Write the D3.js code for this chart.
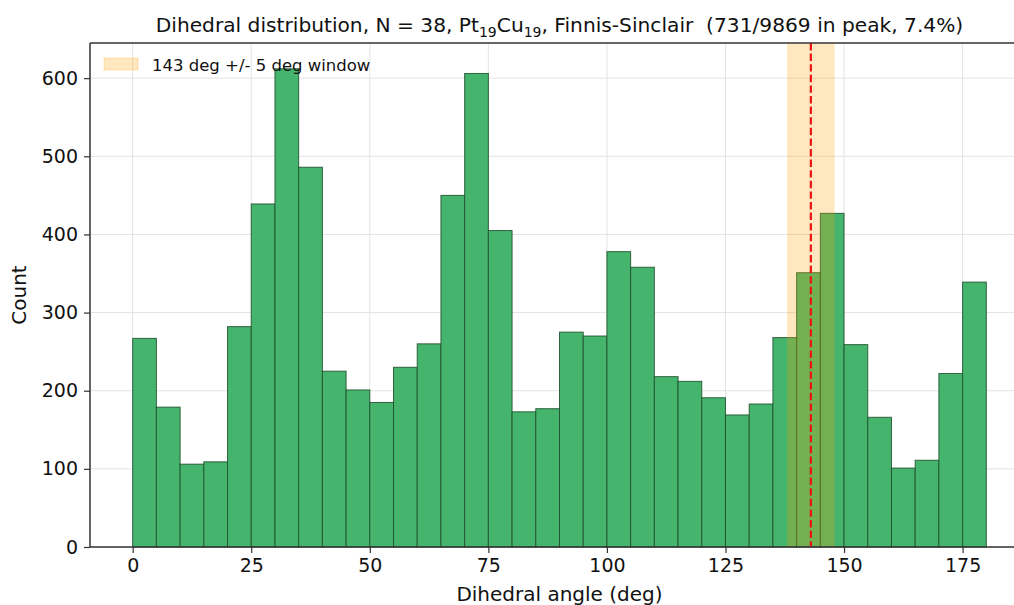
<!DOCTYPE html>
<html>
<head>
<meta charset="utf-8">
<script src="https://cdn.jsdelivr.net/npm/d3@7"></script>
<style>
  html, body { margin: 0; padding: 0; background: #fff; }
  svg { display: block; font-family: "DejaVu Sans", sans-serif; }
</style>
</head>
<body>
<svg id="chart" width="1014" height="605"></svg>
<script>
// ---- data ----
const binStarts = d3.range(0, 180, 5);
const binWidth = 5;
const counts = [267, 179, 106, 109, 282, 439, 612, 486, 225, 201, 185, 230,
                260, 450, 606, 405, 173, 177, 275, 270, 378, 358, 218, 212,
                191, 169, 183, 268, 351, 427, 259, 166, 101, 111, 222, 339];
const xTicks = [0, 25, 50, 75, 100, 125, 150, 175];
const yTicks = [0, 100, 200, 300, 400, 500, 600];
const peakCenter = 143;
const peakHalfWidth = 5;
const legendLabel = "143 deg +/- 5 deg window";
const xLabel = "Dihedral angle (deg)";
const yLabel = "Count";

(function () {
// ---- layout ----
const pL = 90, pT = 43, pB = 547, pR = 1029;
const svg = d3.select("#chart");

const x = d3.scaleLinear().domain([-9, 189]).range([pL, pR]);
const y = d3.scaleLinear().domain([0, 645]).range([pB, pT]);

// grid
const grid = svg.append("g");
grid.selectAll("line.gx").data(xTicks).enter().append("line")
  .attr("x1", d => x(d)).attr("x2", d => x(d))
  .attr("y1", pT).attr("y2", pB)
  .attr("stroke", "#e3e3e3").attr("stroke-width", 1);
grid.selectAll("line.gy").data(yTicks).enter().append("line")
  .attr("x1", pL).attr("x2", pR)
  .attr("y1", d => y(d)).attr("y2", d => y(d))
  .attr("stroke", "#e3e3e3").attr("stroke-width", 1);

// bars
const bars = binStarts.map((s, i) => ({ x0: s, x1: s + binWidth, c: counts[i] }));
svg.append("g").selectAll("rect").data(bars).enter().append("rect")
  .attr("x", d => x(d.x0))
  .attr("width", d => x(d.x1) - x(d.x0))
  .attr("y", d => y(d.c))
  .attr("height", d => y(0) - y(d.c))
  .attr("fill", "#45b46c")
  .attr("stroke", "#1f4d2c")
  .attr("stroke-opacity", 0.85)
  .attr("stroke-width", 1);

// window
svg.append("rect")
  .attr("x", x(peakCenter - peakHalfWidth))
  .attr("width", x(peakCenter + peakHalfWidth) - x(peakCenter - peakHalfWidth))
  .attr("y", pT).attr("height", pB - pT)
  .attr("fill", "#ffa500").attr("fill-opacity", 0.25);

// dashed line
svg.append("line")
  .attr("x1", x(peakCenter)).attr("x2", x(peakCenter))
  .attr("y1", pT).attr("y2", pB)
  .attr("stroke", "#ee1111").attr("stroke-width", 2.2)
  .attr("stroke-dasharray", "7.4,3.2");

// axes
const xAxis = svg.append("g").attr("transform", `translate(0,${pB})`)
  .call(d3.axisBottom(x).tickValues(xTicks).tickSize(6).tickPadding(6).tickFormat(d3.format("d")));
const yAxis = svg.append("g").attr("transform", `translate(${pL},0)`)
  .call(d3.axisLeft(y).tickValues(yTicks).tickSize(6).tickPadding(6).tickFormat(d3.format("d")));
[xAxis, yAxis].forEach(a => {
  a.selectAll(".domain").remove();
  a.selectAll(".tick line").attr("stroke", "#333").attr("stroke-width", 1.2);
  a.selectAll(".tick text").attr("fill", "#111")
    .style("font-family", "DejaVu Sans").style("font-size", "19px");
});

// spines
svg.append("line").attr("x1", pL).attr("x2", pL).attr("y1", pT).attr("y2", pB)
  .attr("stroke", "#333").attr("stroke-width", 1.5);
svg.append("line").attr("x1", pL).attr("x2", pR).attr("y1", pB).attr("y2", pB)
  .attr("stroke", "#333").attr("stroke-width", 1.5);
svg.append("line").attr("x1", pL).attr("x2", pR).attr("y1", pT).attr("y2", pT)
  .attr("stroke", "#333").attr("stroke-width", 1.5);

// axis labels
svg.append("text").attr("x", (pL + pR) / 2).attr("y", 601)
  .attr("text-anchor", "middle").attr("fill", "#111").style("font-size", "20px")
  .text(xLabel);
svg.append("text").attr("transform", `translate(26,${(pT + pB) / 2}) rotate(-90)`)
  .attr("text-anchor", "middle").attr("fill", "#111").style("font-size", "20px")
  .text(yLabel);

// title
const title = svg.append("text").attr("x", (pL + pR) / 2).attr("y", 32)
  .attr("text-anchor", "middle").attr("fill", "#111").style("font-size", "20.2px")
  .style("white-space", "pre");
title.append("tspan").text("Dihedral distribution, N = 38, Pt");
title.append("tspan").attr("dy", 4.5).style("font-size", "14px").text("19");
title.append("tspan").attr("dy", -4.5).text("Cu");
title.append("tspan").attr("dy", 4.5).style("font-size", "14px").text("19");
title.append("tspan").attr("dy", -4.5)
  .text(", Finnis-Sinclair  (731/9869 in peak, 7.4%)");

// legend
svg.append("rect").attr("x", 104).attr("y", 58).attr("width", 34).attr("height", 12)
  .attr("fill", "#ffa500").attr("fill-opacity", 0.25)
  .attr("stroke", "#ffa500").attr("stroke-opacity", 0.25);
svg.append("text").attr("x", 152).attr("y", 70.5).attr("fill", "#111")
  .style("font-size", "16.5px").text(legendLabel);
})();
</script>
</body>
</html>
